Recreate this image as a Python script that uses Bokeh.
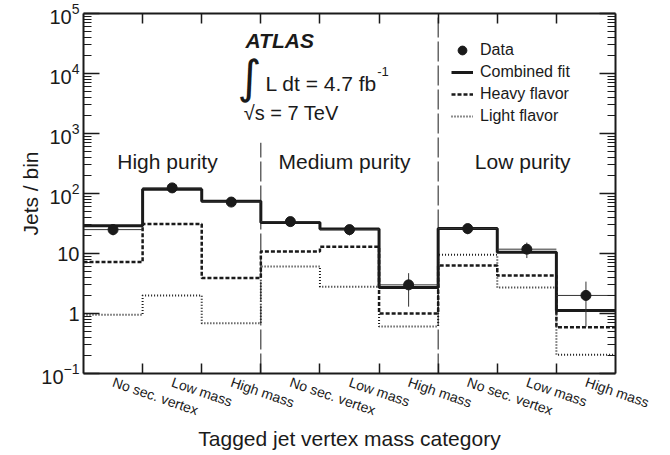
from bokeh.plotting import figure
from bokeh.models import (Range1d, FixedTicker, LogAxis, LinearAxis, Label,
                          Legend, LegendItem, LogTickFormatter)
from bokeh.embed import file_html
from bokeh.resources import INLINE

# ---- data ----
categories = ["No sec. vertex", "Low mass", "High mass",
              "No sec. vertex", "Low mass", "High mass",
              "No sec. vertex", "Low mass", "High mass"]
purity_groups = ["High purity", "Medium purity", "Low purity"]
data_vals = [25, 124, 72, 34, 25, 3.0, 26, 11.8, 2.0]
data_err = [5, 11, 8.5, 5.8, 5, 1.7, 5.1, 3.4, 1.4]
fit_vals = [29, 118, 74, 33, 25.5, 2.7, 26, 10.5, 1.12]
heavy_vals = [7.2, 31, 3.9, 10.8, 12.9, 1.0, 6.3, 4.3, 0.59]
light_vals = [0.95, 2.0, 0.69, 6.1, 2.8, 0.61, 9.5, 2.7, 0.205]
divider_pos = [3, 6]
divider_top = [700, 1e5]
y_major = [0.1, 1, 10, 100, 1e3, 1e4, 1e5]
y_labels_plain = {10: "10", 1: "1"}

FONT = "Liberation Sans"
INK = "#1a1a1a"

n = len(categories)
edges = list(range(n + 1))
centers = [i + 0.5 for i in range(n)]
y_minor = [k * 10.0 ** e for e in range(-1, 5) for k in range(2, 10)]

W, H = 668, 454
p = figure(width=W, height=H, x_range=Range1d(0, n), y_range=Range1d(0.1, 1e5),
           y_axis_type="log", output_backend="svg", toolbar_location=None,
           min_border_left=83, min_border_right=W - 615, min_border_top=13,
           min_border_bottom=H - 373)
p.grid.visible = False
p.outline_line_color = None
p.background_fill_color = "white"

# x axis (bottom)
xa = p.xaxis[0]
xa.ticker = FixedTicker(ticks=centers, minor_ticks=edges[1:-1])
xa.major_label_overrides = {c: lab for c, lab in zip(centers, categories)}
xa.major_tick_in = 0
xa.major_tick_out = 0
xa.minor_tick_in = 10
xa.minor_tick_out = 0
xa.minor_tick_line_width = 1.5
xa.minor_tick_line_color = INK
xa.major_label_orientation = -0.33
xa.major_label_standoff = 8
xa.major_label_text_font = FONT
xa.major_label_text_font_size = "14px"
xa.major_label_text_color = INK
xa.axis_label = "Tagged jet vertex mass category"
xa.axis_label_text_font = FONT
xa.axis_label_text_font_size = "21px"
xa.axis_label_text_font_style = "normal"
xa.axis_label_text_color = INK
xa.axis_label_standoff = -2
xa.axis_line_width = 2
xa.axis_line_color = INK

# y axis (left)
ya = p.yaxis[0]
ya.ticker = FixedTicker(ticks=y_major, minor_ticks=y_minor)
ya.formatter = LogTickFormatter()
ya.major_label_overrides = y_labels_plain
ya.major_tick_in = 16
ya.major_tick_out = 0
ya.minor_tick_in = 8
ya.minor_tick_out = 0
ya.major_tick_line_width = 1.5
ya.minor_tick_line_width = 1.2
ya.major_tick_line_color = INK
ya.minor_tick_line_color = INK
ya.major_label_standoff = 4
ya.major_label_text_font = FONT
ya.major_label_text_font_size = "20px"
ya.major_label_text_color = INK
ya.axis_label = "Jets / bin"
ya.axis_label_text_font = FONT
ya.axis_label_text_font_size = "21px"
ya.axis_label_text_font_style = "normal"
ya.axis_label_text_color = INK
ya.axis_label_standoff = -4
ya.axis_line_width = 2
ya.axis_line_color = INK

# top and right axes (ticks only, empty labels)
top = LinearAxis(ticker=FixedTicker(ticks=centers, minor_ticks=edges[1:-1]),
                 major_label_overrides={c: "" for c in centers},
                 major_tick_in=0, major_tick_out=0, minor_tick_in=10, minor_tick_out=0,
                 minor_tick_line_width=1.5, minor_tick_line_color=INK,
                 major_label_text_font_size="4px", major_label_standoff=0,
                 axis_line_width=2, axis_line_color=INK)
p.add_layout(top, "above")
right = LogAxis(ticker=FixedTicker(ticks=y_major, minor_ticks=y_minor),
                major_label_overrides={t: "" for t in y_major},
                major_tick_in=16, major_tick_out=0, minor_tick_in=8, minor_tick_out=0,
                major_tick_line_width=1.5, minor_tick_line_width=1.2,
                major_tick_line_color=INK, minor_tick_line_color=INK,
                major_label_text_font_size="4px", major_label_standoff=0,
                axis_line_width=2, axis_line_color=INK)
p.add_layout(right, "right")

# dividers
p.segment(x0=divider_pos, x1=divider_pos, y0=[0.1, 0.1], y1=divider_top,
          line_color=INK, line_width=1, line_dash="20 4")

# step histograms
r_light = p.step(x=edges, y=light_vals + [light_vals[-1]], mode="after",
                 line_color=INK, line_width=2, line_dash="1 2")
r_heavy = p.step(x=edges, y=heavy_vals + [heavy_vals[-1]], mode="after",
                 line_color=INK, line_width=2.5, line_dash="4 2")
r_fit = p.step(x=edges, y=fit_vals + [fit_vals[-1]], mode="after",
               line_color=INK, line_width=3)

# data with error bars
p.segment(x0=edges[:-1], x1=edges[1:], y0=data_vals, y1=data_vals,
          line_color="#333333", line_width=1)
p.segment(x0=centers, x1=centers,
          y0=[d - e for d, e in zip(data_vals, data_err)],
          y1=[d + e for d, e in zip(data_vals, data_err)],
          line_color="#333333", line_width=1)
r_data = p.scatter(x=centers, y=data_vals, size=10, marker="circle",
                   fill_color=INK, line_color=INK)

# legend
legend = Legend(items=[LegendItem(label="Data", renderers=[r_data]),
                       LegendItem(label="Combined fit", renderers=[r_fit]),
                       LegendItem(label="Heavy flavor", renderers=[r_heavy]),
                       LegendItem(label="Light flavor", renderers=[r_light])],
                location=(368, 246), padding=0, spacing=0, margin=0,
                glyph_width=22, glyph_height=22, label_height=22, label_standoff=7,
                label_text_font=FONT, label_text_font_size="16px",
                label_text_color=INK, border_line_alpha=0, background_fill_alpha=0)
p.add_layout(legend, "center")

# text annotations
def lab(x, y, text, size, style="normal", font=FONT, align="left", baseline="alphabetic"):
    p.add_layout(Label(x=x, y=y, text=text, text_font=font, text_font_size=size,
                       text_font_style=style, text_color=INK, text_align=align,
                       text_baseline=baseline))

lab(2.74, 35300, "ATLAS", "21px", style="bold italic")
lab(2.81, 8850, "\u222b", "46px", font="DejaVu Sans", align="center", baseline="middle")
lab(3.08, 6800, "L dt = 4.7 fb", "21px")
lab(4.97, 10800, "-1", "13px")
lab(2.71, 2160, "\u221as = 7 TeV", "20px")
group_x = [1.42, 4.415, 7.43]
for gx, g in zip(group_x, purity_groups):
    lab(gx, 340, g, "21px", align="center")

open("out.html", "w").write(file_html(p, INLINE))
